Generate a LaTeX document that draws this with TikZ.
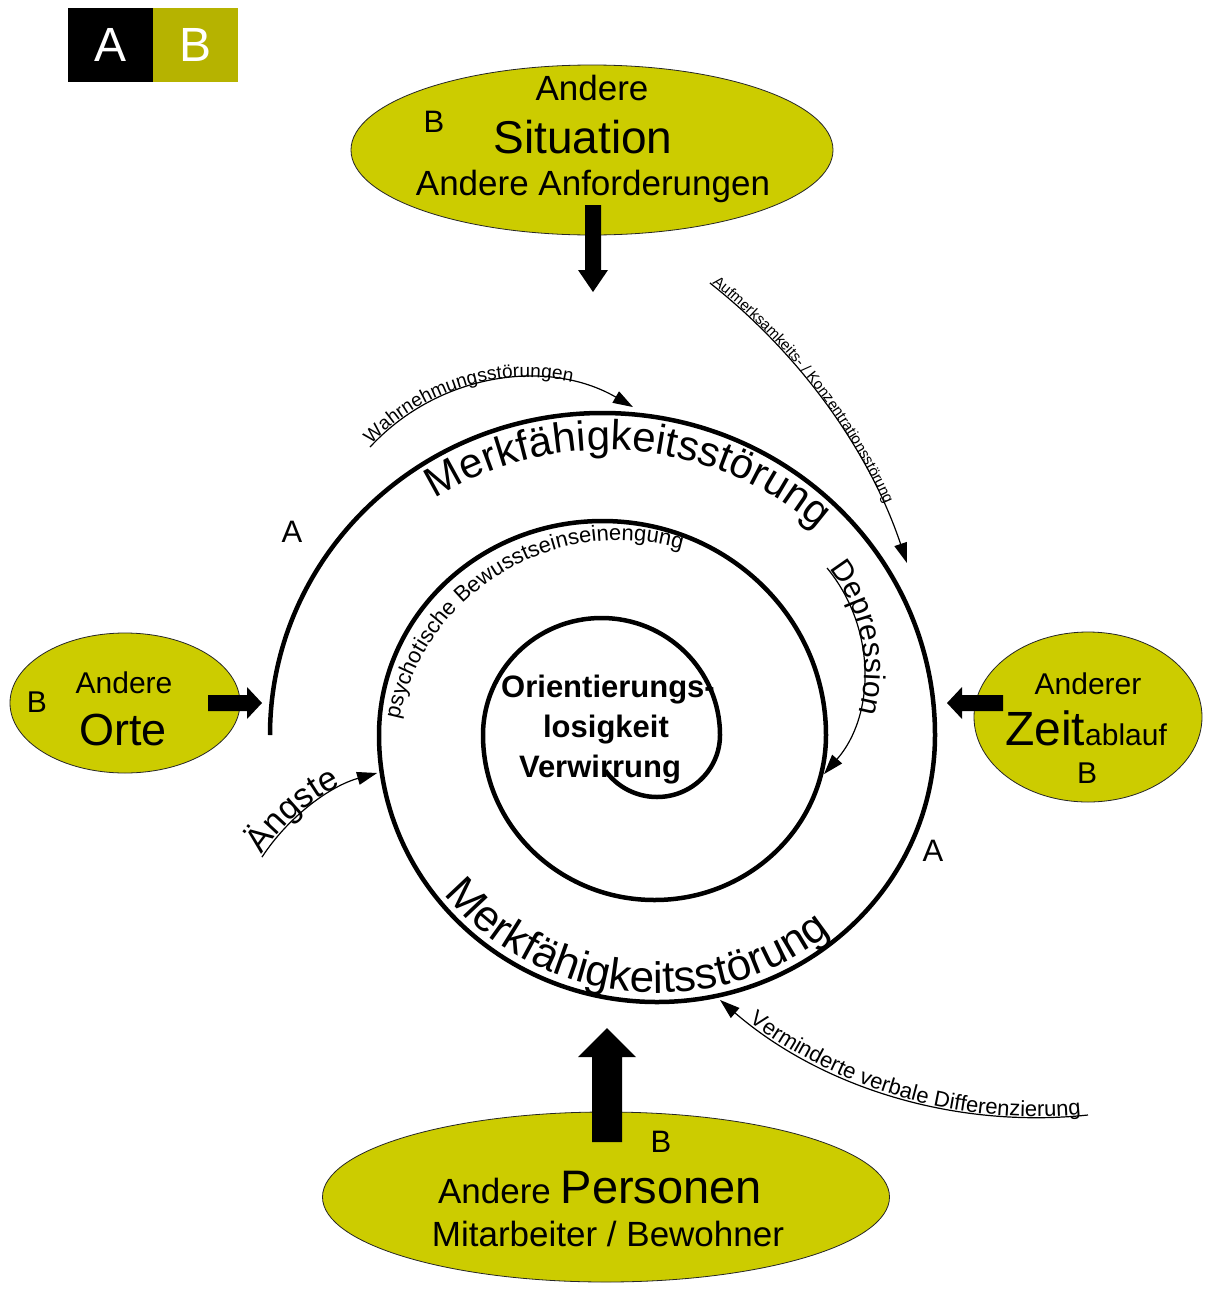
\documentclass[tikz,border=0pt]{standalone}
\usepackage{fontspec}
\setmainfont{Liberation Sans}
\usetikzlibrary{shapes.geometric,decorations.text,arrows.meta,calc}

\definecolor{bubblefill}{HTML}{CCCC00}
\definecolor{legendfill}{HTML}{B6B300}

\newcommand{\fs}[1]{\fontsize{#1}{#1}\selectfont}

\begin{document}
\begin{tikzpicture}[x=1pt,y=-1pt,
  bubble/.style={ellipse, draw=black!85, line width=0.8pt, fill=bubblefill, inner sep=0pt},
  legendbox/.style={minimum width=85pt, minimum height=74pt, inner sep=0pt, text=white, font=\fs{48}},
  lbl/.style={inner sep=0pt, anchor=base},
  spiralline/.style={line width=4.5pt},
  thinarrow/.style={line width=1.2pt, -{Triangle[length=20pt,width=13pt]}},
  thinarrowrev/.style={line width=1.2pt, {Triangle[length=20pt,width=13pt]}-},
  blockarrow/.style={fill=black},
]
\useasboundingbox (0,0) rectangle (1208,1293);
\fill[white] (0,0) rectangle (1208,1293);

% legend
\node[legendbox, fill=black] (legA) at (110.5,45) {A};
\node[legendbox, fill=legendfill] (legB) at (195.5,45) {B};

% influences (B)
\node[bubble, minimum width=482pt, minimum height=170pt] (sit) at (592,150) {};
\node[lbl, font=\fs{35}] (sitA) at (592,100) {Andere};
\node[lbl, font=\fs{46}] (sitB) at (583,153) {Situation};
\node[lbl, font=\fs{35}] (sitC) at (593,195) {Andere Anforderungen};
\node[lbl, font=\fs{31}] (sitL) at (434,132) {B};

\node[bubble, minimum width=230pt, minimum height=140pt] (orte) at (125,703) {};
\node[lbl, font=\fs{30}] (orteA) at (124,693) {Andere};
\node[lbl, font=\fs{45}] (orteB) at (123,745) {Orte};
\node[lbl, font=\fs{30}] (orteL) at (37,712) {B};

\node[bubble, minimum width=228pt, minimum height=170pt] (zeit) at (1088,717) {};
\node[lbl, font=\fs{30}] (zeitA) at (1088,694) {Anderer};
\node[lbl] (zeitB) at (1086,745) {\fs{48}Zeit\fs{30}ablauf};
\node[lbl, font=\fs{30}] (zeitL) at (1087,783) {B};

\node[bubble, minimum width=567pt, minimum height=170pt] (pers) at (606,1197) {};
\node[lbl] (persA) at (600,1203) {\fs{35}Andere \fs{47}Personen};
\node[lbl, font=\fs{35}] (persB) at (608,1246) {Mitarbeiter / Bewohner};
\node[lbl, font=\fs{31}] (persL) at (661,1152) {B};

% block arrows pointing at the spiral
\fill[blockarrow] (585,205) -- (601,205) -- (601,270) -- (608,270) -- (593,292) -- (578,270) -- (585,270) -- cycle;
\fill[blockarrow] (208,695) -- (247,695) -- (247,687) -- (262,703) -- (247,719) -- (247,711) -- (208,711) -- cycle;
\fill[blockarrow] (1003,695) -- (962,695) -- (962,687) -- (947,703) -- (962,719) -- (962,711) -- (1003,711) -- cycle;
\fill[blockarrow] (592,1142) -- (592,1057) -- (578,1057) -- (607,1028) -- (636,1057) -- (622,1057) -- (622,1142) -- cycle;

% the spiral: half-ellipses joined at their left/right extremes
\coordinate (spStart) at (270,735);
\draw[spiralline] (spStart)
  arc[start angle=180, end angle=360, x radius=332.5, y radius=322]
  arc[start angle=0,   end angle=180, x radius=278,   y radius=267]
  arc[start angle=180, end angle=360, x radius=223.5, y radius=214]
  arc[start angle=0,   end angle=180, x radius=171.5, y radius=165]
  arc[start angle=180, end angle=360, x radius=118.5, y radius=117]
  arc[start angle=0,   end angle=145, x radius=63,    y radius=62];

% labels A
\node[font=\fs{31}, inner sep=0pt] (labA1) at (292,532) {A};
\node[font=\fs{31}, inner sep=0pt] (labA2) at (933,851) {A};

% curved labels on the spiral
\coordinate (cTop) at (606,773.4);
\coordinate (cBot) at (657,735);
\coordinate (cPsy) at (618.9,765);
\path[decorate, decoration={text along path, text align=center,
   text={|\fs{42}|Merkfähigkeitsstörung}}]
  ([shift={(-126:323.5)}]cTop) arc[start angle=-126, end angle=-45, radius=323.5];
\path[decorate, decoration={text along path, text align=center,
   text={|\fs{44}|Merkfähigkeitsstörung}}]
  ([shift={(147:270 and 258)}]cBot) arc[start angle=147, end angle=45, x radius=270, y radius=258];
\path[decorate, decoration={text along path, text align=center,
   text={|\fs{22}|psychotische Bewusstseinseinengung}}]
  ([shift={(-174:224.7)}]cPsy) arc[start angle=-174, end angle=-68, radius=224.7];

% centre
\node[lbl, font=\bfseries\fs{31}] (ctrA) at (608,697) {Orientierungs-};
\node[lbl, font=\bfseries\fs{31}] (ctrB) at (606,737) {losigkeit};
\node[lbl, font=\bfseries\fs{31}] (ctrC) at (600,777) {Verwirrung};

% thin labelled arrows
\coordinate (cWahr) at (526.43,590.9);
\coordinate (cAufm) at (340.7,752.1);
\coordinate (cDepr) at (704.2,669.24);
\coordinate (cAngs) at (431.76,968.7);
\coordinate (cVerm) at (1036.9,632.3);
\draw[thinarrow, postaction={decorate, decoration={text along path,
   text align={left, left indent=3pt}, raise=1pt, text={|\fs{19}|Wahrnehmungsstörungen}}}]
  ([shift={(-137.4:212.5)}]cWahr) arc[start angle=-137.4, end angle=-59.9, radius=212.5];
\draw[thinarrow, postaction={decorate, decoration={text along path,
   text align={left, left indent=2pt}, raise=1pt, text={|\fs{15}|Aufmerksamkeits- / Konzentrationsstörung}}}]
  ([shift={(-51.8:597)}]cAufm) arc[start angle=-51.8, end angle=-18.47, radius=597];
\draw[thinarrow, postaction={decorate, decoration={text along path,
   text align={left, left indent=2pt}, raise=1pt, text={|\fs{30}|Depression}}}]
  ([shift={(-39.5:159.2)}]cDepr) arc[start angle=-39.5, end angle=41.2, radius=159.2];
\draw[thinarrow, postaction={decorate, decoration={text along path,
   text align={left, left indent=2pt}, raise=1pt, text={|\fs{34}|Ängste}}}]
  ([shift={(-146.7:203.2)}]cAngs) arc[start angle=-146.7, end angle=-105.6, radius=203.2];
\draw[thinarrowrev, postaction={decorate, decoration={text along path,
   text align={left, left indent=36pt}, raise=1pt, text={|\fs{22}|Verminderte verbale Differenzierung}}}]
  ([shift={(-229.24:485.4)}]cVerm) arc[start angle=-229.24, end angle=-276.04, radius=485.4];
\end{tikzpicture}
\end{document}
